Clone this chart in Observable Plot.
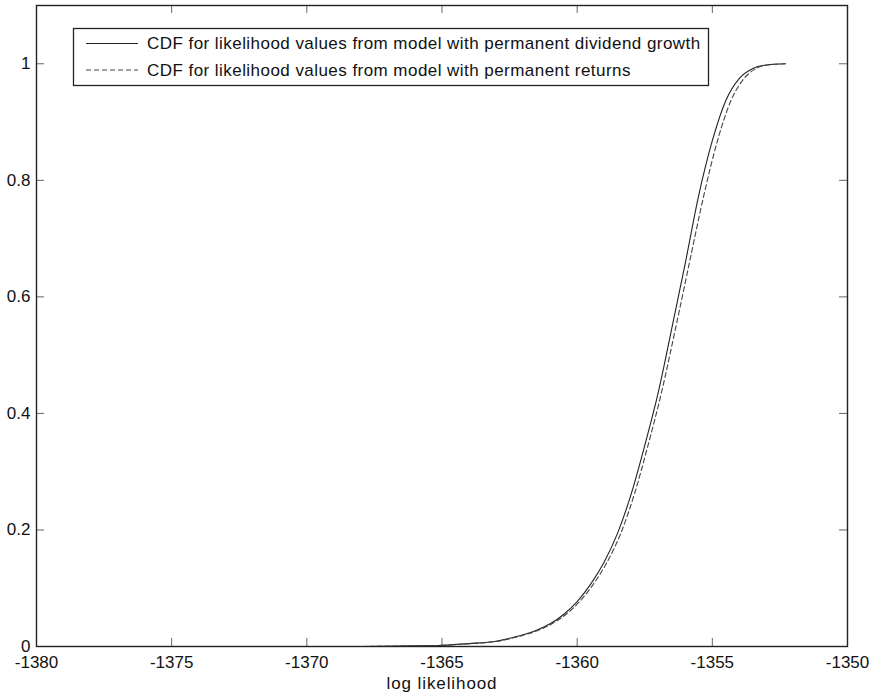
<!DOCTYPE html>
<html><head><meta charset="utf-8">
<script src="https://cdn.jsdelivr.net/npm/d3@7"></script>
<script src="https://cdn.jsdelivr.net/npm/@observablehq/plot@0.6"></script>
<style>body{margin:0;background:#fff} #chart{width:871px;height:695px}</style>
</head><body><div id="chart"></div>
<script>
const xTicks = [-1380, -1375, -1370, -1365, -1360, -1355, -1350];
const yTicks = [0, 0.2, 0.4, 0.6, 0.8, 1];
const seriesNames = [
  "CDF for likelihood values from model with permanent dividend growth",
  "CDF for likelihood values from model with permanent returns"
];
const xLabel = "log likelihood";

// series 1: permanent dividend growth (solid)
const xDividend = [-1368, -1366, -1365, -1364, -1363, -1362.5, -1362, -1361.5, -1361, -1360.5, -1360, -1359.5, -1359, -1358.5, -1358, -1357.5, -1357, -1356.5, -1356, -1355.5, -1355, -1354.5, -1354, -1353.5, -1353, -1352.3];
const yDividend = [0, 0.001, 0.002, 0.005, 0.009, 0.014, 0.02, 0.028, 0.039, 0.055, 0.077, 0.107, 0.145, 0.195, 0.262, 0.345, 0.436, 0.546, 0.658, 0.775, 0.868, 0.937, 0.975, 0.992, 0.998, 1.0];
// series 2: permanent returns (dashed)
const xReturns = [-1368, -1365.98, -1364.97, -1363.96, -1362.95, -1362.44, -1361.94, -1361.43, -1360.93, -1360.42, -1359.91, -1359.4, -1358.89, -1358.38, -1357.88, -1357.38, -1356.88, -1356.36, -1355.85, -1355.31, -1354.81, -1354.31, -1353.82, -1353.38, -1352.93, -1352.3];
const yReturns = [0, 0.001, 0.002, 0.005, 0.009, 0.014, 0.02, 0.028, 0.039, 0.055, 0.077, 0.107, 0.145, 0.195, 0.262, 0.345, 0.436, 0.546, 0.658, 0.775, 0.868, 0.937, 0.975, 0.992, 0.998, 1.0];

const W = 871, H = 695, mL = 36, mR = 24, mT = 5, mB = 49;
const fw = W - mL - mR, fh = H - mT - mB, tk = 8;
const FONT = "'Liberation Sans', Arial, Helvetica, sans-serif";
const rows = (xs, ys) => xs.map((x, i) => ({x, y: ys[i]}));
const dividend = rows(xDividend, yDividend);
const returns = rows(xReturns, yReturns);

const plot = Plot.plot({
  width: W, height: H, marginLeft: mL, marginRight: mR, marginTop: mT, marginBottom: mB,
  style: {fontFamily: FONT, fontSize: "17px", color: "#111", background: "#fff"},
  x: {domain: [-1380, -1350]},
  y: {domain: [0, 1.1]},
  marks: [
    Plot.axisX({ticks: xTicks, tickSize: 0, tickPadding: 9, tickFormat: d => String(d), label: null}),
    Plot.axisY({ticks: yTicks, tickSize: 0, tickPadding: 6, tickFormat: d => String(d), label: null}),
    Plot.text([xLabel], {text: d => d, frameAnchor: "bottom", dy: 42, fontSize: 17, fill: "#111"}),
    Plot.tickX(xTicks, {x: d => d, insetTop: fh - tk, stroke: "#666"}),
    Plot.tickX(xTicks, {x: d => d, insetBottom: fh - tk, stroke: "#666"}),
    Plot.tickY(yTicks, {y: d => d, insetRight: fw - tk, stroke: "#666"}),
    Plot.tickY(yTicks, {y: d => d, insetLeft: fw - tk, stroke: "#666"}),
    Plot.line(dividend, {x: "x", y: "y", stroke: "#222", strokeWidth: 1.1, curve: "monotone-x"}),
    Plot.line(returns, {x: "x", y: "y", stroke: "#444", strokeWidth: 1.1, strokeDasharray: "5,3", curve: "monotone-x"}),
    Plot.frame({stroke: "#222", strokeWidth: 1.4})
  ]
});
document.getElementById("chart").appendChild(plot);

const svg = d3.select(plot);
// slightly looser spacing on the axis label, as in the reference
svg.selectAll("text").filter(function () { return this.textContent === xLabel; })
  .attr("letter-spacing", "0.9px");

// legend box
const lg = svg.append("g").attr("text-anchor", "start");
lg.append("rect").attr("x", 73.5).attr("y", 28.5).attr("width", 635).attr("height", 57)
  .attr("fill", "#fff").attr("stroke", "#222").attr("stroke-width", 1.3);
const rowY = [43.5, 70];
const dashes = [null, "5,3"];
seriesNames.forEach((name, i) => {
  lg.append("line").attr("x1", 86).attr("x2", 138).attr("y1", rowY[i]).attr("y2", rowY[i])
    .attr("stroke", i ? "#444" : "#222").attr("stroke-width", 1.1)
    .attr("stroke-dasharray", dashes[i]);
  lg.append("text").attr("x", 147).attr("y", rowY[i]).attr("dy", "0.35em")
    .attr("text-anchor", "start")
    .attr("font-family", FONT).attr("font-size", 17).attr("letter-spacing", "0.45px")
    .attr("fill", "#111").text(name);
});
</script>
</body></html>
